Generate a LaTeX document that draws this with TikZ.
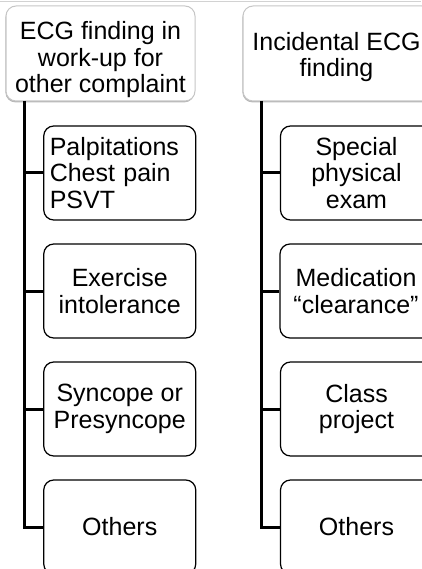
\documentclass[tikz,border=0pt]{standalone}
\usepackage{fontspec}
\setmainfont{Liberation Sans}
\usetikzlibrary{shadows}
\begin{document}
\begin{tikzpicture}[x=1pt,y=-1pt,
  txt/.style={font=\fontsize{25}{26.5}\selectfont, align=center, inner sep=0pt},
  parentbox/.style={txt, draw=gray!45, line width=1pt, fill=white, rounded corners=10pt,
     minimum width=189pt, minimum height=95pt,
     drop shadow={shadow xshift=-0.6pt, shadow yshift=-1.4pt, fill=gray!70, opacity=0.8}},
  childbox/.style={txt, draw=black, line width=1.2pt, fill=white, rounded corners=10pt,
     minimum width=152pt, minimum height=94pt},
  conn/.style={line width=3pt, draw=black}]
\useasboundingbox (0,0) rectangle (421,569);
\draw[gray!35, line width=1.5pt] (0,1.5) -- (421,1.5);
% left column
\node[parentbox] (p1) at (100.5,53.5) {};
\node[txt] (p1t) at (100.5,60) {ECG finding in\\work-up for\\other complaint};
\node[childbox, align=left, text width=140pt] (l1) at (119.75,173) {Palpitations\\Chest pain\\PSVT};
\node[childbox] (l2) at (119.75,291) {Exercise\\intolerance};
\node[childbox] (l3) at (119.75,409) {Syncope or\\Presyncope};
\node[childbox] (l4) at (119.75,527) {Others};
% right column
\node[parentbox] (p2) at (337.5,53.5) {};
\node[txt] (p2t) at (336.5,57) {Incidental ECG\\finding};
\node[childbox] (r1) at (356.5,173) {Special\\physical\\exam};
\node[childbox] (r2) at (356,291) {Medication\\``clearance''};
\node[childbox] (r3) at (356.5,409) {Class\\project};
\node[childbox] (r4) at (356.5,527) {Others};
% connectors
\coordinate (la) at ([xshift=19pt]p1.south west);
\coordinate (ra) at ([xshift=19pt]p2.south west);
\draw[conn] ([yshift=0.5pt]la) |- (l4.west);
\draw[conn] (l1.west -| la) -- (l1.west);
\draw[conn] (l2.west -| la) -- (l2.west);
\draw[conn] (l3.west -| la) -- (l3.west);
\draw[conn] ([yshift=0.5pt]ra) |- (r4.west);
\draw[conn] (r1.west -| ra) -- (r1.west);
\draw[conn] (r2.west -| ra) -- (r2.west);
\draw[conn] (r3.west -| ra) -- (r3.west);
\end{tikzpicture}
\end{document}
